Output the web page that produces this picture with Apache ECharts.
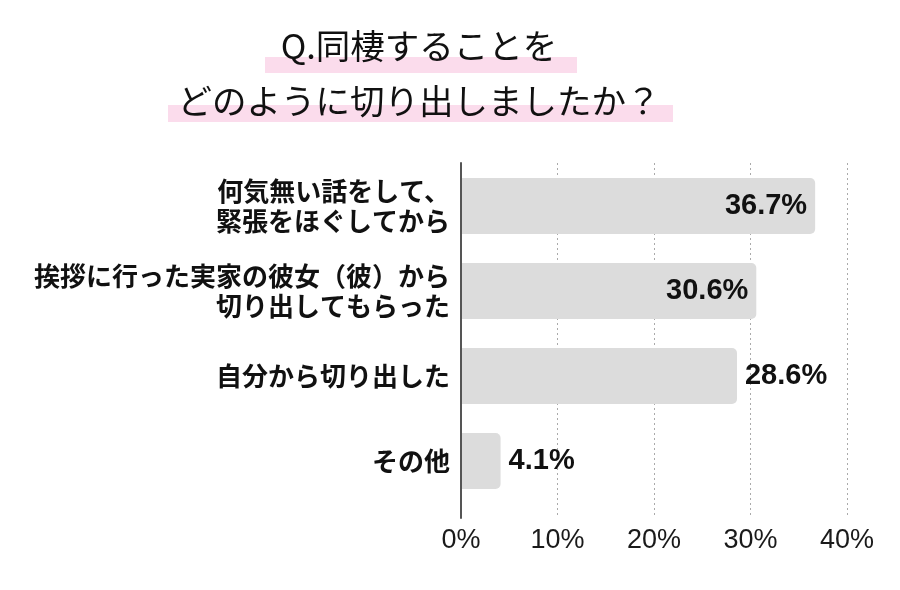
<!DOCTYPE html>
<html>
<head>
<meta charset="utf-8">
<script src="https://cdn.jsdelivr.net/npm/echarts@6/dist/echarts.min.js"></script>
<style>html,body{margin:0;padding:0;background:#fff;}#c{width:900px;height:590px;}</style>
</head>
<body>
<div id="c"></div>
<script>
const titleLines = ['Q.同棲することを', 'どのように切り出しましたか？'];
const categories = ['何気無い話をして、\n緊張をほぐしてから', '挨拶に行った実家の彼女（彼）から\n切り出してもらった', '自分から切り出した', 'その他'];
const values = [36.7, 30.6, 28.6, 4.1];
const axisMin = 0, axisMax = 40, axisStep = 10;

const chart = echarts.init(document.getElementById('c'));
const jp = '"Noto Sans CJK JP", "Noto Sans", sans-serif';
const num = '"Liberation Sans", Arial, sans-serif';
chart.setOption({
  backgroundColor: '#ffffff',
  animation: false,
  graphic: [
    { type: 'rect', shape: { x: 265, y: 57, width: 312, height: 16 }, style: { fill: '#fbdcec' }, z: 1 },
    { type: 'rect', shape: { x: 168, y: 105, width: 505, height: 17 }, style: { fill: '#fbdcec' }, z: 1 },
    { type: 'text', x: 419, y: 46, z: 10, style: { text: titleLines[0], font: '400 34.5px ' + jp, fill: '#111', align: 'center', verticalAlign: 'middle' } },
    { type: 'text', x: 419, y: 101, z: 10, style: { text: titleLines[1], font: '400 34.5px ' + jp, fill: '#111', align: 'center', verticalAlign: 'middle' } }
  ],
  grid: [
    { left: 461, right: 53, top: 163.5, height: 340 },
    { left: 461, right: 53, top: 163, height: 355 }
  ],
  xAxis: [
    { gridIndex: 0, type: 'value', min: axisMin, max: axisMax, interval: axisStep, show: false },
    { gridIndex: 1, type: 'value', min: axisMin, max: axisMax, interval: axisStep,
      axisLine: { show: false }, axisTick: { show: false },
      axisLabel: { formatter: '{value}%', fontFamily: num, fontSize: 27, color: '#1a1a1a', margin: 9 },
      splitLine: { show: true, lineStyle: { type: [2, 3], color: '#aaaaaa', width: 1 } } }
  ],
  yAxis: [
    { gridIndex: 0, type: 'category', inverse: true, data: categories,
      axisLine: { show: false }, axisTick: { show: false },
      axisLabel: { fontFamily: jp, fontWeight: 'bold', fontSize: 26, lineHeight: 30, color: '#111', margin: 11, align: 'right' } },
    { gridIndex: 1, type: 'value', min: 0, max: 1, z: 10,
      axisLine: { show: true, lineStyle: { color: '#555', width: 2 } },
      axisTick: { show: false }, axisLabel: { show: false }, splitLine: { show: false } }
  ],
  series: [{
    type: 'bar', xAxisIndex: 0, yAxisIndex: 0,
    barWidth: 56,
    itemStyle: { color: '#dcdcdc', borderRadius: [0, 5, 5, 0] },
    data: values.map(v => ({
      value: v,
      label: { position: v > 30 ? 'insideRight' : 'right', distance: 8 }
    })),
    label: { show: true, formatter: p => p.value + '%', fontFamily: num, fontWeight: 'bold', fontSize: 29, color: '#111' }
  }]
});
</script>
</body>
</html>
